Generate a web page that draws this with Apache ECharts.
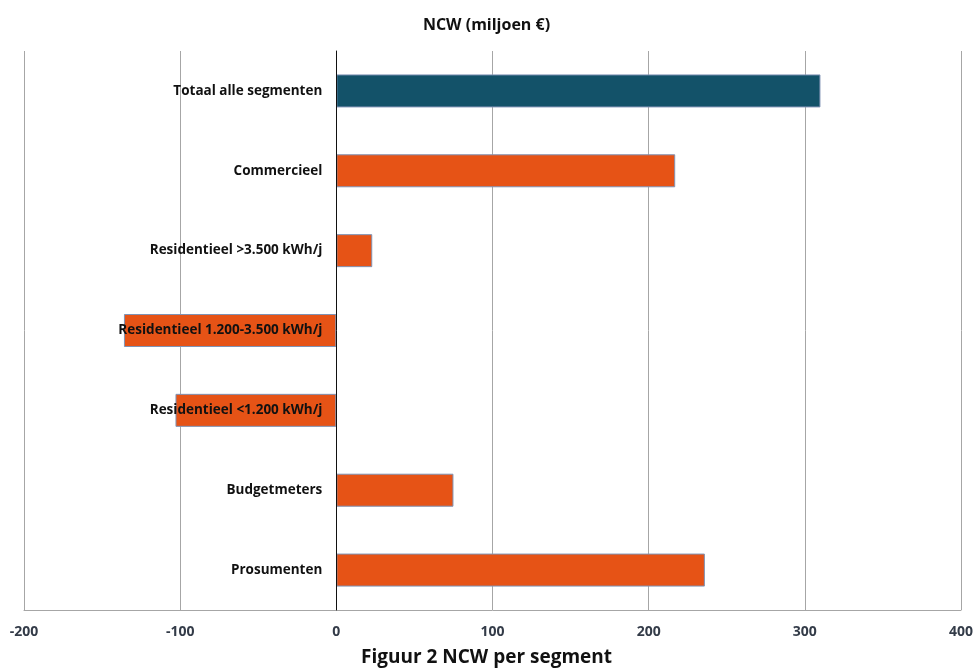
<!DOCTYPE html>
<html>
<head>
<meta charset="utf-8">
<script src="https://cdn.jsdelivr.net/npm/echarts@6/dist/echarts.min.js"></script>
<style>
  html, body { margin: 0; padding: 0; background: #fff; }
  #chart { width: 973px; height: 671px; }
</style>
</head>
<body>
<div id="chart"></div>
<script>
// Net present value per segment (million euro)
const segments = [
  'Totaal alle segmenten',
  'Commercieel',
  'Residentieel >3.500 kWh/j',
  'Residentieel 1.200-3.500 kWh/j',
  'Residentieel <1.200 kWh/j',
  'Budgetmeters',
  'Prosumenten'
];
const ncwValues = [310, 217, 23, -136, -103, 75, 236];
const axisTicks = [-200, -100, 0, 100, 200, 300, 400];

const FONT = '"Open Sans", "Noto Sans", sans-serif';
const TOTAL_COLOR = '#135269';
const SEGMENT_COLOR = '#E65316';

const chart = echarts.init(document.getElementById('chart'), null, { renderer: 'canvas' });

chart.setOption({
  animation: false,
  backgroundColor: '#ffffff',
  title: [
    {
      text: 'NCW (miljoen €)',
      left: 'center',
      top: 12,
      textStyle: { fontFamily: FONT, fontSize: 16, fontWeight: 'bold', color: '#111' }
    },
    {
      text: 'Figuur 2 NCW per segment',
      left: 'center',
      top: 643,
      textStyle: { fontFamily: FONT, fontSize: 19, fontWeight: 'bold', color: '#111' }
    }
  ],
  grid: { left: 24, right: 12, top: 51, bottom: 61, containLabel: false, outerBoundsMode: 'none' },
  xAxis: {
    type: 'value',
    min: axisTicks[0],
    max: axisTicks[axisTicks.length - 1],
    interval: axisTicks[1] - axisTicks[0],
    axisLine: { show: true, lineStyle: { color: '#a6a6a6', width: 1 } },
    axisTick: { show: false },
    axisLabel: {
      margin: 15,
      fontFamily: FONT,
      fontSize: 14,
      fontWeight: 'bold',
      color: '#333b48'
    },
    splitLine: { show: true, lineStyle: { color: '#a6a6a6', width: 1 } }
  },
  yAxis: {
    type: 'category',
    data: segments,
    inverse: true,
    z: 10,
    axisLine: { show: true, onZero: true, lineStyle: { color: '#111', width: 1 } },
    axisTick: { show: false },
    splitLine: { show: false },
    axisLabel: { show: false }
  },
  series: [
    {
      type: 'bar',
      data: ncwValues,
      barWidth: 33,
      itemStyle: {
        color: (p) => (p.dataIndex === 0 ? TOTAL_COLOR : SEGMENT_COLOR),
        borderColor: '#7f93b5',
        borderWidth: 1
      }
    },
    {
      // Category names anchored at the zero line, drawn above the bars
      type: 'bar',
      data: segments.map(() => 0),
      barWidth: 33,
      barGap: '-100%',
      silent: true,
      z: 20,
      itemStyle: { color: 'transparent', borderWidth: 0 },
      label: {
        show: true,
        position: 'left',
        distance: 14,
        formatter: (p) => p.name,
        fontFamily: FONT,
        fontSize: 13.5,
        fontWeight: 'bold',
        color: '#111'
      }
    }
  ]
});
</script>
</body>
</html>
